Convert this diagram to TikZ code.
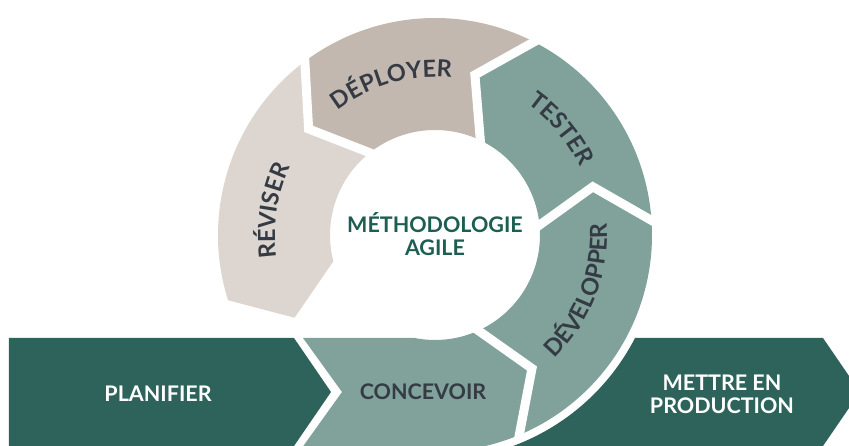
\documentclass[tikz,border=0pt]{standalone}
\usepackage{fontspec}
\setmainfont{Lato}
\usetikzlibrary{decorations.text}

\definecolor{verdescuro}{HTML}{2D635A}
\definecolor{salvia}{HTML}{80A29B}
\definecolor{tortora}{HTML}{C2B8B0}
\definecolor{sabbia}{HTML}{DCD5D0}
\definecolor{ardesia}{HTML}{353B44}
\definecolor{petrolio}{HTML}{1D5E52}

\newcommand{\anellofont}{\fontsize{23.5}{23.5}\selectfont\bfseries\color{ardesia}}

\begin{document}
\begin{tikzpicture}[x=1pt,y=1pt,
    fessura/.style={white,line width=9pt,line join=miter},
    etichetta/.style={font=\fontsize{21.5}{23}\selectfont\bfseries,align=center,text=white},
    curva/.style={decorate,decoration={text along path,text align=center,
        text={|\anellofont|#1}}}]

            \useasboundingbox (-435,-211) rectangle (414,235);
            \clip (-435,-211) rectangle (414,235);

            % Banda: planifier
            \fill[verdescuro] (-426,-103) -- (-141,-103) -- (-104,-157) -- (-141,-211) -- (-426,-211) -- cycle;

            % Banda: mise en production
            \fill[verdescuro] (198,-103) -- (388,-103) -- (425,-157) -- (388,-211) -- (-69.7:225)
                arc[start angle=-69.7, end angle=-27.2, radius=225] -- cycle;

            % Concevoir
            \fill[salvia] (-132,-103) -- (-101.2:105) arc[start angle=-101.2, end angle=-68, radius=105]
                -- (-54:165) -- (-68:217) arc[start angle=-68, end angle=-90, radius=217]
                -- (-136,-217) -- (-93,-157) -- cycle;

            % Developper
            \fill[salvia] (-68:105) -- (-54:165) -- (-68:217) arc[start angle=-68, end angle=3, radius=217]
                -- (17:165) -- (3:105) arc[start angle=3, end angle=-68, radius=105] -- cycle;

            % Tester
            \fill[salvia] (3:105) -- (17:165) -- (3:217) arc[start angle=3, end angle=62, radius=217]
                -- (76:165) -- (62:105) arc[start angle=62, end angle=3, radius=105] -- cycle;

            % Deployer
            \fill[tortora] (62:105) -- (76:165) -- (62:217) arc[start angle=62, end angle=126, radius=217]
                -- (140:165) -- (126:105) arc[start angle=126, end angle=62, radius=105] -- cycle;

            % Reviser
            \fill[sabbia] (126:105) -- (140:165) -- (126:217) arc[start angle=126, end angle=197.5, radius=217]
                -- (210.5:163) -- (194.5:105) arc[start angle=194.5, end angle=126, radius=105] -- cycle;

            % Fessure bianche
            \foreach \a in {-68,3,62,126}
                \draw[fessura] (\a:98) -- (\a+14:165) -- (\a:222);

            % Testi dell'anello
            \path[curva=DÉPLOYER] (146:158) arc[start angle=146, end angle=66, radius=158];
            \path[curva=TESTER] (80:160) arc[start angle=80, end angle=0, radius=160];
            \path[curva=RÉVISER] (211.5:160) arc[start angle=211.5, end angle=131.5, radius=160];
            \path[curva=DÉVELOPPER] (-71:172) arc[start angle=-71, end angle=29, radius=172];

            % Testi
            \node[etichetta,text=petrolio] (metodo) at (0,1) {MÉTHODOLOGIE\\AGILE};
            \node[etichetta] (planifier) at (-277,-159) {PLANIFIER};
            \node[etichetta,text=ardesia] (concevoir) at (-12,-157) {CONCEVOIR};
            \node[etichetta] (production) at (287,-159) {METTRE EN\\PRODUCTION};
        \end{tikzpicture}
\end{document}
